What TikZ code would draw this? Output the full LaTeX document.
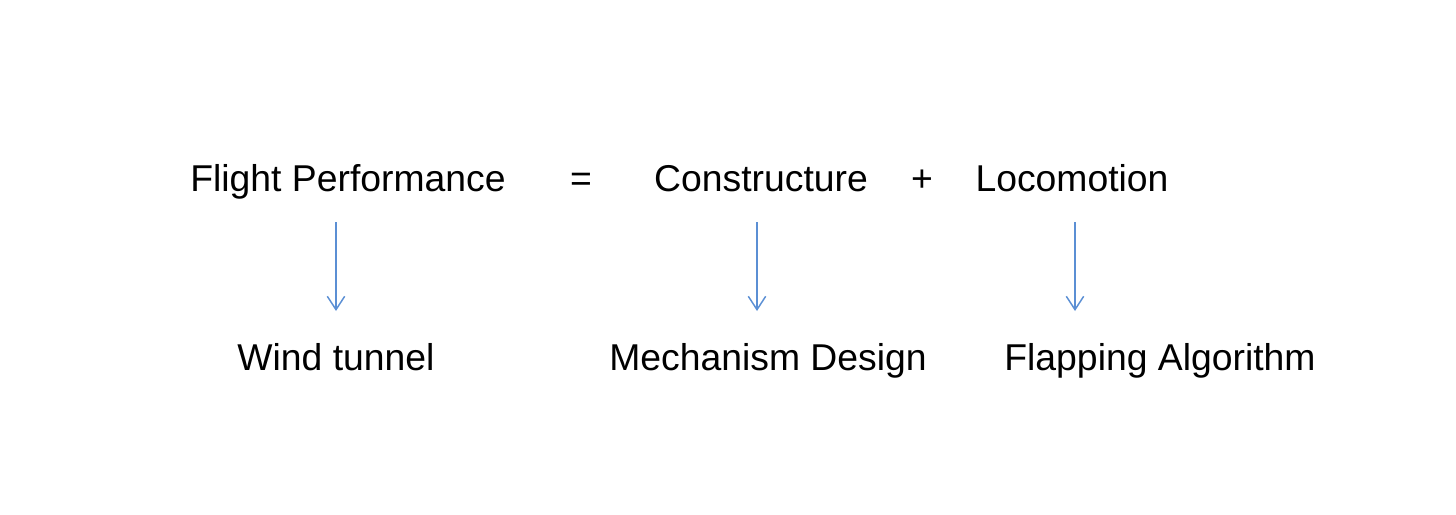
\documentclass[tikz,border=0pt]{standalone}
\usepackage{fontspec}
\setmainfont{Liberation Sans}
\usetikzlibrary{arrows.meta}
\definecolor{arrowblue}{RGB}{91,143,212}
\begin{document}
\begin{tikzpicture}[x=0.75pt,y=-0.75pt,
  lbl/.style={anchor=base,inner sep=0pt,font=\fontsize{28}{34}\selectfont},
  conn/.style={draw=arrowblue,line width=1.1pt,-{Straight Barb[length=10pt,width=13pt,line width=1.1pt]}}]
\useasboundingbox (0,0) rectangle (1456,514);
\node[lbl] (fp) at (348,191) {Flight Performance};
\node[lbl] (eq) at (581,191) {=};
\node[lbl] (co) at (761,191) {Constructure};
\node[lbl] (pl) at (922,191) {+};
\node[lbl] (lo) at (1072,191) {Locomotion};
\node[lbl] (wt) at (336,370) {Wind tunnel};
\node[lbl] (md) at (768,370) {Mechanism Design};
\node[lbl] (fa) at (1160,370) {Flapping Algorithm};
\coordinate (a1s) at (336,222); \coordinate (a1e) at (336,311);
\coordinate (a2s) at (757,222); \coordinate (a2e) at (757,311);
\coordinate (a3s) at (1075,222); \coordinate (a3e) at (1075,311);
\draw[conn] (a1s) -- (a1e);
\draw[conn] (a2s) -- (a2e);
\draw[conn] (a3s) -- (a3e);
\end{tikzpicture}
\end{document}
